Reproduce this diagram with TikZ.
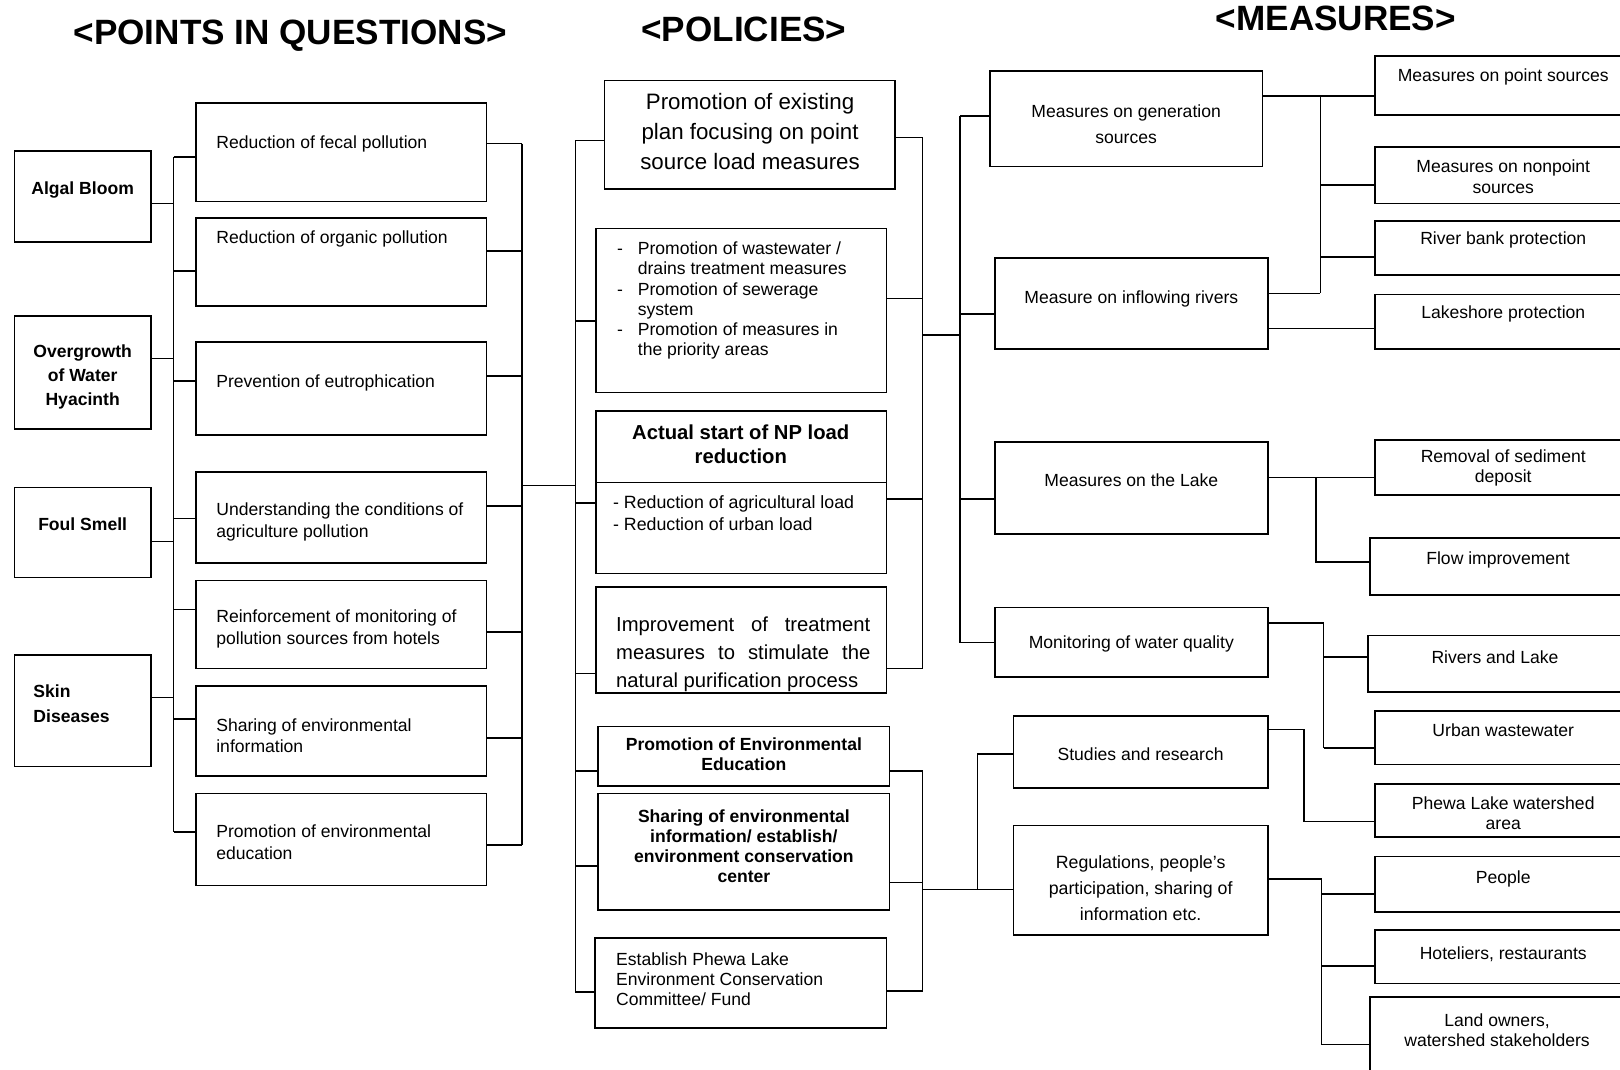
\documentclass[tikz,border=0pt]{standalone}
\usepackage{fontspec}
\setmainfont{Liberation Sans}
\newcommand\bx[5]{\node[box,minimum width={(#4-#2)*0.5pt},minimum height={(#5-#3)*0.5pt}] (#1) at ({(#2+#4)/2},{(#3+#5)/2}) {};}
\begin{document}
\begin{tikzpicture}[x=0.5pt,y=-0.5pt,
  box/.style={draw,line width=0.8pt,inner sep=0pt,outer sep=0pt},
  ln/.style={line width=0.8pt},
  ttl/.style={font=\fontsize{17}{20}\selectfont\bfseries,inner sep=0pt},
  tx/.style={font=\fontsize{8.5}{10.5}\selectfont,inner sep=0pt,align=left,anchor=west},
  txc/.style={font=\fontsize{8.5}{10}\selectfont,inner sep=0pt,align=center},
  bt/.style={font=\fontsize{8.5}{11.5}\selectfont\bfseries,inner sep=0pt,align=center}]
\useasboundingbox (0,0) rectangle (1568,1035);
\fill[white] (0,0) rectangle (1568,1035);

% titles
\node[ttl] (h1) at (281,35) {<POINTS IN QUESTIONS>};
\node[ttl] (h2) at (720,28) {<POLICIES>};
\node[ttl] (h3) at (1293,18) {<MEASURES>};

% left column
\bx{algal}{14}{146}{146}{234}
\bx{overg}{14}{306}{146}{415}
\bx{foul}{14}{472}{146}{559}
\bx{skin}{14}{634}{146}{742}
\node[bt] (talgal) at (80,184) {Algal Bloom};
\node[bt] (tovg) at (80,365) {Overgrowth\\of Water\\Hyacinth};
\node[bt] (tfoul) at (80,507) {Foul Smell};
\node[bt,align=left,anchor=west,font=\fontsize{8.5}{12}\selectfont\bfseries] (tskin) at (32,681) {Skin\\Diseases};

% points boxes
\bx{fecal}{190}{100}{471}{195}
\bx{organic}{190}{211}{471}{296}
\bx{eutro}{190}{331}{471}{421}
\bx{underst}{190}{457}{471}{545}
\bx{reinf}{190}{562}{471}{647}
\bx{sharing}{190}{664}{471}{751}
\bx{promo}{190}{768}{471}{857}
\node[tx] (tfecal) at (209,139) {Reduction of fecal pollution};
\node[tx] (torg) at (209,231) {Reduction of organic pollution};
\node[tx] (teut) at (209,371) {Prevention of eutrophication};
\node[tx] (tund) at (209,505) {Understanding the conditions of\\agriculture pollution};
\node[tx] (trein) at (209,609) {Reinforcement of monitoring of\\pollution sources from hotels};
\node[tx] (tshar) at (209,712) {Sharing of environmental\\information};
\node[tx] (tprom) at (209,815) {Promotion of environmental\\education};

% buses left
\coordinate (b1t) at (168,152); \coordinate (b1b) at (168,805);
\draw[ln] (b1t) -- (b1b);
\foreach \n/\y in {algal/197,overg/347,foul/524,skin/675}
  \draw[ln] (\n.east |- 0,\y) -- (b1t |- 0,\y);
\foreach \n/\y in {fecal/152,organic/262,eutro/369,underst/502,reinf/590,sharing/696,promo/805}
  \draw[ln] (b1t |- 0,\y) -- (\n.west |- 0,\y);

\coordinate (b2t) at (505,139); \coordinate (b2b) at (505,818);
\draw[ln] (b2t) -- (b2b);
\foreach \n/\y in {fecal/139,organic/243,eutro/364,underst/490,reinf/612,sharing/714,promo/818}
  \draw[ln] (\n.east |- 0,\y) -- (b2t |- 0,\y);

% policies
\bx{plan}{585}{78}{866}{183}
\bx{waste}{577}{221}{858}{380}
\bx{actual}{577}{398}{858}{555}
\bx{improv}{577}{568}{858}{671}
\bx{pee}{579}{703}{861}{761}
\bx{share}{579}{768}{861}{881}
\bx{estab}{576}{908}{858}{995}
\draw[ln] (actual.west |- 0,467) -- (actual.east |- 0,467);

\node[txc,font=\fontsize{10.8}{14.5}\selectfont] (tplan) at (726,127) {Promotion of existing\\plan focusing on point\\source load measures};
\node[tx,font=\fontsize{8.5}{9.8}\selectfont] (twaste) at (597,291) {\makebox[10pt][l]{-}Promotion of wastewater /\\
\hspace*{10pt}drains treatment measures\\
\makebox[10pt][l]{-}Promotion of sewerage\\
\hspace*{10pt}system\\
\makebox[10pt][l]{-}Promotion of measures in\\
\hspace*{10pt}the priority areas};
\node[bt,font=\fontsize{9.8}{12}\selectfont\bfseries] (tact) at (717,430) {Actual start of NP load\\reduction};
\node[tx,font=\fontsize{8.6}{10.5}\selectfont] (tactl) at (593,497) {- Reduction of agricultural load\\- Reduction of urban load};
\node[tx,align=justify,text width=123pt,font=\fontsize{9.8}{13.5}\selectfont] (timp) at (596,633) {\hyphenpenalty=10000 \exhyphenpenalty=10000 Improvement of treatment measures to stimulate the natural purification process};
\node[bt,font=\fontsize{8.5}{10}\selectfont\bfseries] (tpee) at (720,730) {Promotion of Environmental\\Education};
\node[bt,font=\fontsize{8.5}{9.8}\selectfont\bfseries] (tshare) at (720,819) {Sharing of environmental\\information/ establish/\\environment conservation\\center};
\node[tx,font=\fontsize{8.5}{9.8}\selectfont] (testab) at (596,948) {Establish Phewa Lake\\Environment Conservation\\Committee/ Fund};

\coordinate (b3t) at (557,136); \coordinate (b3b) at (557,960);
\draw[ln] (b3t) -- (b3b);
\draw[ln] (b2t |- 0,470) -- (b3t |- 0,470);
\foreach \n/\y in {plan/136,waste/311,actual/487,improv/652,pee/746,share/838,estab/960}
  \draw[ln] (b3t |- 0,\y) -- (\n.west |- 0,\y);

\coordinate (b4t) at (893,133); \coordinate (b4b) at (893,647);
\draw[ln] (b4t) -- (b4b);
\foreach \n/\y in {plan/133,waste/289,actual/483,improv/647}
  \draw[ln] (\n.east |- 0,\y) -- (b4t |- 0,\y);
\coordinate (b5t) at (893,746); \coordinate (b5b) at (893,959);
\draw[ln] (b5t) -- (b5b);
\foreach \n/\y in {pee/746,share/854,estab/959}
  \draw[ln] (\n.east |- 0,\y) -- (b5t |- 0,\y);

% measures
\bx{gen}{958}{69}{1222}{161}
\bx{inflow}{963}{250}{1227}{338}
\bx{lake}{963}{428}{1227}{517}
\bx{monit}{963}{588}{1227}{655}
\bx{studies}{981}{693}{1227}{763}
\bx{regul}{981}{799}{1227}{905}
\node[txc,font=\fontsize{8.5}{12.5}\selectfont] (tgen) at (1090,120) {Measures on generation\\sources};
\node[txc] (tinf) at (1095,289) {Measure on inflowing rivers};
\node[txc] (tlake) at (1095,465) {Measures on the Lake};
\node[txc] (tmon) at (1095,623) {Monitoring of water quality};
\node[txc] (tstu) at (1104,730) {Studies and research};
\node[txc,font=\fontsize{8.6}{12.6}\selectfont] (treg) at (1104,860) {Regulations, people's\\participation, sharing of\\information etc.};

\coordinate (b6t) at (929,112); \coordinate (b6b) at (929,622);
\draw[ln] (b6t) -- (b6b);
\draw[ln] (b4t |- 0,324) -- (b6t |- 0,324);
\foreach \n/\y in {gen/112,inflow/304,lake/483,monit/622}
  \draw[ln] (b6t |- 0,\y) -- (\n.west |- 0,\y);
\coordinate (b7t) at (946,730); \coordinate (b7b) at (946,861);
\draw[ln] (b7t) -- (b7b);
\draw[ln] (b5t |- 0,861) -- (regul.west |- 0,861);
\draw[ln] (b7t |- 0,730) -- (studies.west |- 0,730);

% right column
\bx{pts}{1331}{54}{1580}{111}
\bx{nonpt}{1331}{142}{1580}{197}
\bx{river}{1331}{214}{1580}{266}
\bx{lakesh}{1331}{285}{1580}{338}
\bx{remov}{1331}{426}{1580}{479}
\bx{flow}{1326}{521}{1580}{576}
\bx{rivlake}{1324}{615}{1580}{670}
\bx{urban}{1331}{688}{1580}{740}
\bx{phewa}{1331}{759}{1580}{810}
\bx{people}{1331}{829}{1580}{883}
\bx{hotel}{1331}{900}{1580}{952}
\bx{land}{1326}{965}{1580}{1045}
\node[txc] (tpts) at (1455,74) {Measures on point sources};
\node[txc] (tnon) at (1455,171) {Measures on nonpoint\\sources};
\node[txc] (triv) at (1455,232) {River bank protection};
\node[txc] (tlsh) at (1455,304) {Lakeshore protection};
\node[txc] (trem) at (1455,453) {Removal of sediment\\deposit};
\node[txc] (tflow) at (1450,542) {Flow improvement};
\node[txc] (trl) at (1447,636) {Rivers and Lake};
\node[txc] (turb) at (1455,707) {Urban wastewater};
\node[txc] (tphe) at (1455,787) {Phewa Lake watershed\\area};
\node[txc] (tpeo) at (1455,851) {People};
\node[txc] (thot) at (1455,924) {Hoteliers, restaurants};
\node[txc] (tland) at (1449,997) {Land owners,\\watershed stakeholders};

% sub buses
\draw[ln] (gen.east |- 0,93) -- (pts.west |- 0,93);
\coordinate (b8t) at (1278,93); \coordinate (b8b) at (1278,284);
\draw[ln] (b8t) -- (b8b);
\draw[ln] (inflow.east |- 0,284) -- (b8t |- 0,284);
\foreach \n/\y in {nonpt/179,river/249}
  \draw[ln] (b8t |- 0,\y) -- (\n.west |- 0,\y);
\draw[ln] (inflow.east |- 0,318) -- (lakesh.west |- 0,318);

\draw[ln] (lake.east |- 0,462) -- (remov.west |- 0,462);
\coordinate (b9t) at (1274,462); \coordinate (b9b) at (1274,544);
\draw[ln] (b9t) -- (b9b) -- (flow.west |- 0,544);

\coordinate (b10t) at (1281,603); \coordinate (b10b) at (1281,724);
\draw[ln] (monit.east |- 0,603) -- (b10t) -- (b10b);
\foreach \n/\y in {rivlake/636,urban/724}
  \draw[ln] (b10t |- 0,\y) -- (\n.west |- 0,\y);

\coordinate (b11) at (1262,706);
\draw[ln] (studies.east |- 0,706) -- (b11) |- (phewa.west |- 0,795);

\coordinate (b12t) at (1279,851); \coordinate (b12b) at (1279,1011);
\draw[ln] (regul.east |- 0,851) -- (b12t) -- (b12b);
\foreach \n/\y in {people/865,hotel/935,land/1011}
  \draw[ln] (b12t |- 0,\y) -- (\n.west |- 0,\y);
\end{tikzpicture}
\end{document}
